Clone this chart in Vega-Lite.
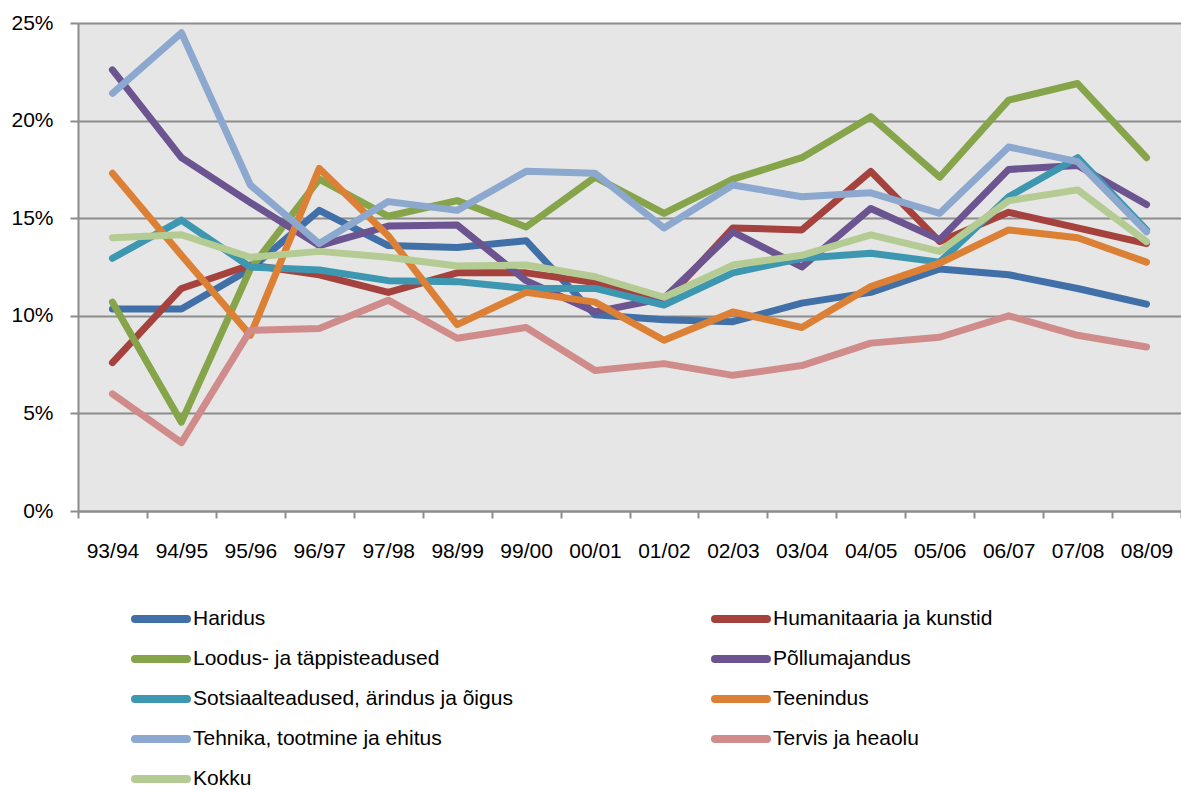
{
  "$schema": "https://vega.github.io/schema/vega-lite/v6.json",
  "width": 1103,
  "height": 488,
  "autosize": {"type": "none"},
  "padding": {"left": 78, "top": 23, "right": 0, "bottom": 278},
  "background": "white",
  "config": {
    "view": {"fill": "#e6e6e6", "stroke": null},
    "font": "Liberation Sans"
  },
  "data": {"values": [
    {"series":"Haridus","year":"93/94","value":10.35},{"series":"Haridus","year":"94/95","value":10.35},{"series":"Haridus","year":"95/96","value":12.4},{"series":"Haridus","year":"96/97","value":15.4},{"series":"Haridus","year":"97/98","value":13.6},{"series":"Haridus","year":"98/99","value":13.5},{"series":"Haridus","year":"99/00","value":13.85},{"series":"Haridus","year":"00/01","value":10.05},{"series":"Haridus","year":"01/02","value":9.8},{"series":"Haridus","year":"02/03","value":9.7},{"series":"Haridus","year":"03/04","value":10.65},{"series":"Haridus","year":"04/05","value":11.2},{"series":"Haridus","year":"05/06","value":12.4},{"series":"Haridus","year":"06/07","value":12.1},{"series":"Haridus","year":"07/08","value":11.4},{"series":"Haridus","year":"08/09","value":10.6},
    {"series":"Humanitaaria ja kunstid","year":"93/94","value":7.6},{"series":"Humanitaaria ja kunstid","year":"94/95","value":11.4},{"series":"Humanitaaria ja kunstid","year":"95/96","value":12.6},{"series":"Humanitaaria ja kunstid","year":"96/97","value":12.1},{"series":"Humanitaaria ja kunstid","year":"97/98","value":11.2},{"series":"Humanitaaria ja kunstid","year":"98/99","value":12.2},{"series":"Humanitaaria ja kunstid","year":"99/00","value":12.2},{"series":"Humanitaaria ja kunstid","year":"00/01","value":11.7},{"series":"Humanitaaria ja kunstid","year":"01/02","value":10.7},{"series":"Humanitaaria ja kunstid","year":"02/03","value":14.5},{"series":"Humanitaaria ja kunstid","year":"03/04","value":14.4},{"series":"Humanitaaria ja kunstid","year":"04/05","value":17.4},{"series":"Humanitaaria ja kunstid","year":"05/06","value":13.8},{"series":"Humanitaaria ja kunstid","year":"06/07","value":15.3},{"series":"Humanitaaria ja kunstid","year":"07/08","value":14.5},{"series":"Humanitaaria ja kunstid","year":"08/09","value":13.7},
    {"series":"Loodus- ja täppisteadused","year":"93/94","value":10.7},{"series":"Loodus- ja täppisteadused","year":"94/95","value":4.55},{"series":"Loodus- ja täppisteadused","year":"95/96","value":12.4},{"series":"Loodus- ja täppisteadused","year":"96/97","value":17.0},{"series":"Loodus- ja täppisteadused","year":"97/98","value":15.1},{"series":"Loodus- ja täppisteadused","year":"98/99","value":15.9},{"series":"Loodus- ja täppisteadused","year":"99/00","value":14.55},{"series":"Loodus- ja täppisteadused","year":"00/01","value":17.1},{"series":"Loodus- ja täppisteadused","year":"01/02","value":15.25},{"series":"Loodus- ja täppisteadused","year":"02/03","value":17.0},{"series":"Loodus- ja täppisteadused","year":"03/04","value":18.1},{"series":"Loodus- ja täppisteadused","year":"04/05","value":20.2},{"series":"Loodus- ja täppisteadused","year":"05/06","value":17.1},{"series":"Loodus- ja täppisteadused","year":"06/07","value":21.05},{"series":"Loodus- ja täppisteadused","year":"07/08","value":21.9},{"series":"Loodus- ja täppisteadused","year":"08/09","value":18.1},
    {"series":"Põllumajandus","year":"93/94","value":22.6},{"series":"Põllumajandus","year":"94/95","value":18.1},{"series":"Põllumajandus","year":"95/96","value":15.8},{"series":"Põllumajandus","year":"96/97","value":13.6},{"series":"Põllumajandus","year":"97/98","value":14.6},{"series":"Põllumajandus","year":"98/99","value":14.65},{"series":"Põllumajandus","year":"99/00","value":11.8},{"series":"Põllumajandus","year":"00/01","value":10.2},{"series":"Põllumajandus","year":"01/02","value":10.9},{"series":"Põllumajandus","year":"02/03","value":14.3},{"series":"Põllumajandus","year":"03/04","value":12.5},{"series":"Põllumajandus","year":"04/05","value":15.5},{"series":"Põllumajandus","year":"05/06","value":13.9},{"series":"Põllumajandus","year":"06/07","value":17.5},{"series":"Põllumajandus","year":"07/08","value":17.7},{"series":"Põllumajandus","year":"08/09","value":15.7},
    {"series":"Sotsiaalteadused, ärindus ja õigus","year":"93/94","value":12.95},{"series":"Sotsiaalteadused, ärindus ja õigus","year":"94/95","value":14.9},{"series":"Sotsiaalteadused, ärindus ja õigus","year":"95/96","value":12.5},{"series":"Sotsiaalteadused, ärindus ja õigus","year":"96/97","value":12.35},{"series":"Sotsiaalteadused, ärindus ja õigus","year":"97/98","value":11.8},{"series":"Sotsiaalteadused, ärindus ja õigus","year":"98/99","value":11.75},{"series":"Sotsiaalteadused, ärindus ja õigus","year":"99/00","value":11.4},{"series":"Sotsiaalteadused, ärindus ja õigus","year":"00/01","value":11.4},{"series":"Sotsiaalteadused, ärindus ja õigus","year":"01/02","value":10.55},{"series":"Sotsiaalteadused, ärindus ja õigus","year":"02/03","value":12.2},{"series":"Sotsiaalteadused, ärindus ja õigus","year":"03/04","value":12.95},{"series":"Sotsiaalteadused, ärindus ja õigus","year":"04/05","value":13.2},{"series":"Sotsiaalteadused, ärindus ja õigus","year":"05/06","value":12.75},{"series":"Sotsiaalteadused, ärindus ja õigus","year":"06/07","value":16.1},{"series":"Sotsiaalteadused, ärindus ja õigus","year":"07/08","value":18.1},{"series":"Sotsiaalteadused, ärindus ja õigus","year":"08/09","value":14.4},
    {"series":"Teenindus","year":"93/94","value":17.3},{"series":"Teenindus","year":"94/95","value":13.1},{"series":"Teenindus","year":"95/96","value":9.0},{"series":"Teenindus","year":"96/97","value":17.55},{"series":"Teenindus","year":"97/98","value":14.1},{"series":"Teenindus","year":"98/99","value":9.55},{"series":"Teenindus","year":"99/00","value":11.2},{"series":"Teenindus","year":"00/01","value":10.7},{"series":"Teenindus","year":"01/02","value":8.75},{"series":"Teenindus","year":"02/03","value":10.2},{"series":"Teenindus","year":"03/04","value":9.4},{"series":"Teenindus","year":"04/05","value":11.5},{"series":"Teenindus","year":"05/06","value":12.7},{"series":"Teenindus","year":"06/07","value":14.4},{"series":"Teenindus","year":"07/08","value":14.0},{"series":"Teenindus","year":"08/09","value":12.75},
    {"series":"Tehnika, tootmine ja ehitus","year":"93/94","value":21.4},{"series":"Tehnika, tootmine ja ehitus","year":"94/95","value":24.5},{"series":"Tehnika, tootmine ja ehitus","year":"95/96","value":16.7},{"series":"Tehnika, tootmine ja ehitus","year":"96/97","value":13.7},{"series":"Tehnika, tootmine ja ehitus","year":"97/98","value":15.85},{"series":"Tehnika, tootmine ja ehitus","year":"98/99","value":15.4},{"series":"Tehnika, tootmine ja ehitus","year":"99/00","value":17.4},{"series":"Tehnika, tootmine ja ehitus","year":"00/01","value":17.3},{"series":"Tehnika, tootmine ja ehitus","year":"01/02","value":14.5},{"series":"Tehnika, tootmine ja ehitus","year":"02/03","value":16.7},{"series":"Tehnika, tootmine ja ehitus","year":"03/04","value":16.1},{"series":"Tehnika, tootmine ja ehitus","year":"04/05","value":16.3},{"series":"Tehnika, tootmine ja ehitus","year":"05/06","value":15.25},{"series":"Tehnika, tootmine ja ehitus","year":"06/07","value":18.65},{"series":"Tehnika, tootmine ja ehitus","year":"07/08","value":17.9},{"series":"Tehnika, tootmine ja ehitus","year":"08/09","value":14.3},
    {"series":"Tervis ja heaolu","year":"93/94","value":6.0},{"series":"Tervis ja heaolu","year":"94/95","value":3.5},{"series":"Tervis ja heaolu","year":"95/96","value":9.25},{"series":"Tervis ja heaolu","year":"96/97","value":9.35},{"series":"Tervis ja heaolu","year":"97/98","value":10.8},{"series":"Tervis ja heaolu","year":"98/99","value":8.85},{"series":"Tervis ja heaolu","year":"99/00","value":9.4},{"series":"Tervis ja heaolu","year":"00/01","value":7.2},{"series":"Tervis ja heaolu","year":"01/02","value":7.55},{"series":"Tervis ja heaolu","year":"02/03","value":6.95},{"series":"Tervis ja heaolu","year":"03/04","value":7.45},{"series":"Tervis ja heaolu","year":"04/05","value":8.6},{"series":"Tervis ja heaolu","year":"05/06","value":8.9},{"series":"Tervis ja heaolu","year":"06/07","value":10.0},{"series":"Tervis ja heaolu","year":"07/08","value":9.0},{"series":"Tervis ja heaolu","year":"08/09","value":8.4},
    {"series":"Kokku","year":"93/94","value":14.0},{"series":"Kokku","year":"94/95","value":14.15},{"series":"Kokku","year":"95/96","value":13.0},{"series":"Kokku","year":"96/97","value":13.3},{"series":"Kokku","year":"97/98","value":13.0},{"series":"Kokku","year":"98/99","value":12.55},{"series":"Kokku","year":"99/00","value":12.6},{"series":"Kokku","year":"00/01","value":12.0},{"series":"Kokku","year":"01/02","value":10.95},{"series":"Kokku","year":"02/03","value":12.6},{"series":"Kokku","year":"03/04","value":13.1},{"series":"Kokku","year":"04/05","value":14.15},{"series":"Kokku","year":"05/06","value":13.3},{"series":"Kokku","year":"06/07","value":15.9},{"series":"Kokku","year":"07/08","value":16.45},{"series":"Kokku","year":"08/09","value":13.8}
  ]},
  "mark": {"type": "line", "strokeWidth": 7, "strokeCap": "round", "strokeJoin": "round"},
  "encoding": {
    "x": {
      "field": "year", "type": "ordinal", "sort": null,
      "scale": {"type": "band", "paddingInner": 0, "paddingOuter": 0},
      "bandPosition": 0.5,
      "axis": {
        "title": null, "labelAngle": 0, "tickBand": "extent", "grid": false,
        "domainColor": "#8c8c8c", "domainWidth": 2, "tickColor": "#8c8c8c", "tickWidth": 2, "tickSize": 7,
        "labelFont": "Liberation Sans", "labelFontSize": 21, "labelColor": "#000000", "labelPadding": 22
      }
    },
    "y": {
      "field": "value", "type": "quantitative",
      "scale": {"domain": [0, 25], "nice": false},
      "axis": {
        "title": null, "values": [0, 5, 10, 15, 20, 25], "labelExpr": "datum.value + '%'",
        "grid": true, "gridColor": "#8c8c8c", "gridWidth": 2,
        "domainColor": "#8c8c8c", "domainWidth": 2, "tickColor": "#8c8c8c", "tickWidth": 2, "tickSize": 8,
        "labelFont": "Liberation Sans", "labelFontSize": 21, "labelColor": "#000000", "labelPadding": 17
      }
    },
    "color": {
      "field": "series", "type": "nominal", "sort": null,
      "scale": {
        "domain": ["Haridus", "Loodus- ja täppisteadused", "Sotsiaalteadused, ärindus ja õigus", "Tehnika, tootmine ja ehitus", "Kokku", "Humanitaaria ja kunstid", "Põllumajandus", "Teenindus", "Tervis ja heaolu"],
        "range": ["#4170a8", "#86a449", "#3e97b0", "#8da8ce", "#b4cb93", "#a5423e", "#6b548f", "#dc8035", "#d08c8b"]
      },
      "legend": {
        "title": null, "orient": "none", "legendX": 53, "legendY": 576, "columns": 2,
        "columnPadding": 198, "rowPadding": 0, "clipHeight": 40,
        "symbolType": "stroke", "symbolSize": 2704, "symbolStrokeWidth": 8,
        "labelFont": "Liberation Sans", "labelFontSize": 21, "labelColor": "#000000", "labelOffset": 2, "labelLimit": 600,
        "encode": {"symbols": {"update": {"strokeCap": {"value": "round"}}}}
      }
    }
  }
}
